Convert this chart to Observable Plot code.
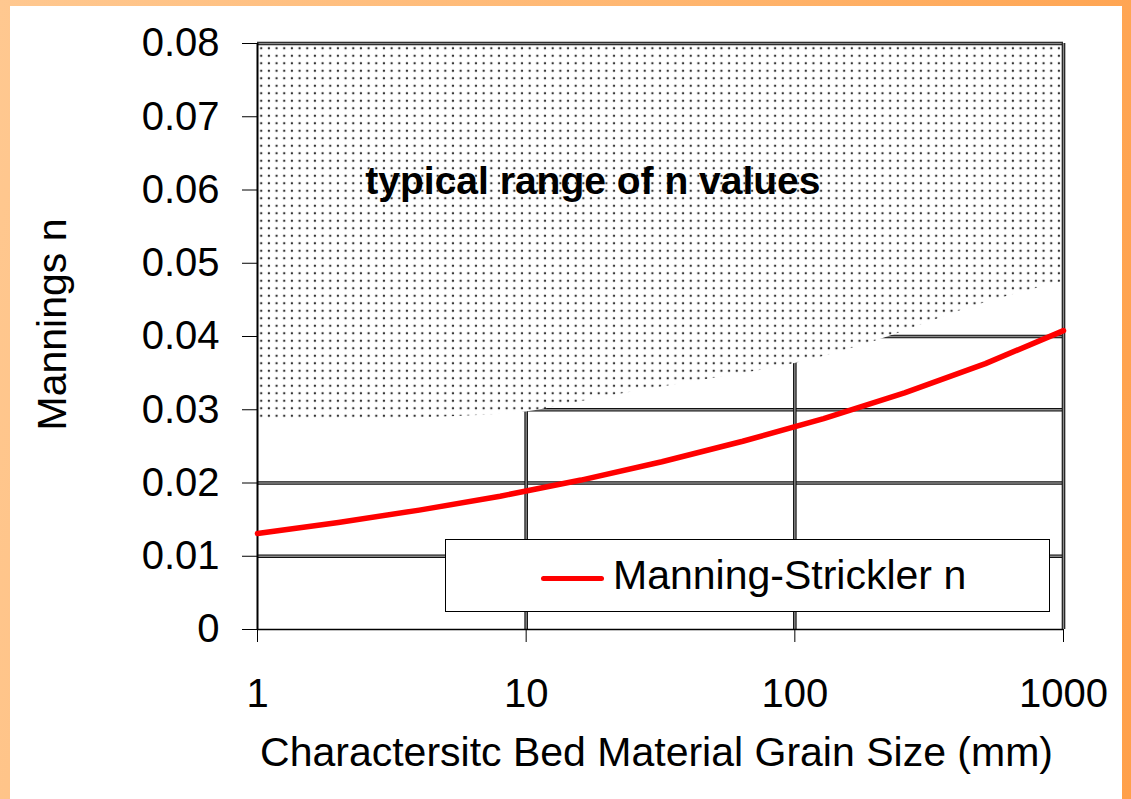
<!DOCTYPE html>
<html>
<head>
<meta charset="utf-8">
<script src="https://cdn.jsdelivr.net/npm/d3@7"></script>
<script src="https://cdn.jsdelivr.net/npm/@observablehq/plot@0.6"></script>
<style>
  html, body { margin: 0; padding: 0; }
  body {
    width: 1131px; height: 799px; overflow: hidden; position: relative;
    background: linear-gradient(100deg, #ffc890 0%, #ffb56e 55%, #ffa04a 100%);
  }
  #panel { position: absolute; left: 10px; top: 6px; width: 1112px; height: 793px; background: #fff; }
  #legend {
    position: absolute; left: 435px; top: 533px; width: 603px; height: 71px;
    background: #fff; border: 1.5px solid #000;
    font-family: "Liberation Sans", Arial, sans-serif; font-size: 41px; color: #000;
  }
  #legend .swatch { position: absolute; left: 95px; top: 36px; width: 63px; height: 5px; background: #ff0000; border-radius: 3px; }
  #legend .label { position: absolute; left: 167px; top: 15px; line-height: 1; white-space: nowrap; }
</style>
</head>
<body>
<div id="panel"></div>
<script>
// Manning-Strickler n for grain sizes on a phi (power-of-two) scale, mm
const grainSize = [1, 2, 4, 8, 16, 32, 64, 128, 256, 512, 1000];
const manningStrickler = [0.0131, 0.0146, 0.0163, 0.0182, 0.0204, 0.0229, 0.0257, 0.0288, 0.0323, 0.0363, 0.0408];

// Lower edge of the typical range of n values (upper edge is the top of the chart)
const rangeSize = [1, 2, 5, 10, 20, 50, 100, 200, 500, 1000];
const rangeLow = [0.0284, 0.0286, 0.0290, 0.0297, 0.0318, 0.0343, 0.0363, 0.0394, 0.0445, 0.0475];
const rangeTop = 0.08;

// Axes
const xTicks = [1, 10, 100, 1000];
const yTicks = [0, 0.01, 0.02, 0.03, 0.04, 0.05, 0.06, 0.07, 0.08];
const xGrid = [10, 100];
const yGrid = [0.01, 0.02, 0.03, 0.04, 0.05, 0.06, 0.07];

const xTitle = "Charactersitc Bed Material Grain Size (mm)";
const yTitle = "Mannings n";
const seriesName = "Manning-Strickler n";
const rangeLabel = {size: 2.52, n: 0.0612, text: "typical range of n values"};

const lineData = grainSize.map((d, i) => ({d, n: manningStrickler[i]}));
const rangeData = rangeSize.map((d, i) => ({d, low: rangeLow[i], top: rangeTop}));

const font = '"Liberation Sans", Arial, sans-serif';

// Chart gridlines are drawn as a dark double rule with a grey core
const doubleRuleY = (v) => [
  Plot.ruleY(v, {stroke: "#111", strokeWidth: 3.6}),
  Plot.ruleY(v, {stroke: "#8a8a8a", strokeWidth: 1.4})
];
const doubleRuleX = (v, opts = {}) => [
  Plot.ruleX(v, {stroke: "#111", strokeWidth: 3.6, ...opts}),
  Plot.ruleX(v, {stroke: "#8a8a8a", strokeWidth: 1.4, ...opts})
];

const chart = Plot.plot({
  width: 1112,
  height: 793,
  marginLeft: 247,
  marginRight: 59,
  marginTop: 37,
  marginBottom: 170,
  style: {fontFamily: font, fontSize: "40px", color: "#000", background: "transparent", overflow: "visible"},
  x: {type: "log", domain: [1, 1000]},
  y: {domain: [0, 0.08]},
  marks: [
    ...doubleRuleY(yGrid),
    ...doubleRuleX(xGrid, {y1: 0, y2: rangeTop}),
    Plot.areaY(rangeData, {x: "d", y1: "low", y2: "top", fill: "url(#stipple)", curve: "monotone-x"}),
    ...doubleRuleY([rangeTop]),
    ...doubleRuleX([1000], {y1: 0, y2: rangeTop}),
    Plot.ruleX([1], {y1: 0, y2: rangeTop, stroke: "#000", strokeWidth: 2}),
    Plot.ruleY([0], {stroke: "#000", strokeWidth: 1.5}),
    Plot.axisY(yTicks, {
      tickSize: 15, tickPadding: 23, fontSize: 40, label: null,
      tickFormat: (d) => d === 0 ? "0" : d.toFixed(2)
    }),
    Plot.axisX(xTicks, {
      tickSize: 13, tickPadding: 36, fontSize: 40, label: null,
      tickFormat: (d) => String(d)
    }),
    Plot.line(lineData, {x: "d", y: "n", stroke: "#ff0000", strokeWidth: 5.5, strokeLinejoin: "round"}),
    Plot.text([rangeLabel], {
      x: "size", y: "n", text: "text", textAnchor: "start",
      fontWeight: "bold", fontSize: 39, fill: "#000"
    }),
    Plot.text([xTitle], {frameAnchor: "bottom", textAnchor: "middle", dx: -4, dy: 123, fontSize: 41, lineAnchor: "middle"}),
    Plot.text([yTitle], {frameAnchor: "left", textAnchor: "middle", dx: -205, dy: -12, rotate: -90, fontSize: 41, lineAnchor: "middle"})
  ]
});

// Dot stipple used for the typical-range band
const defs = d3.select(chart).insert("defs", ":first-child");
const pat = defs.append("pattern")
  .attr("id", "stipple")
  .attr("patternUnits", "userSpaceOnUse")
  .attr("x", 2).attr("y", 1)
  .attr("width", 7.67).attr("height", 7.5);
pat.append("rect").attr("width", 7.67).attr("height", 7.5).attr("fill", "#fff");
pat.append("circle").attr("cx", 3.8).attr("cy", 3.7).attr("r", 1.2).attr("fill", "#333");

const panel = document.getElementById("panel");
panel.appendChild(chart);

const legend = document.createElement("div");
legend.id = "legend";
legend.innerHTML = '<div class="swatch"></div><div class="label"></div>';
legend.querySelector(".label").textContent = seriesName;
panel.appendChild(legend);
</script>
</body>
</html>
